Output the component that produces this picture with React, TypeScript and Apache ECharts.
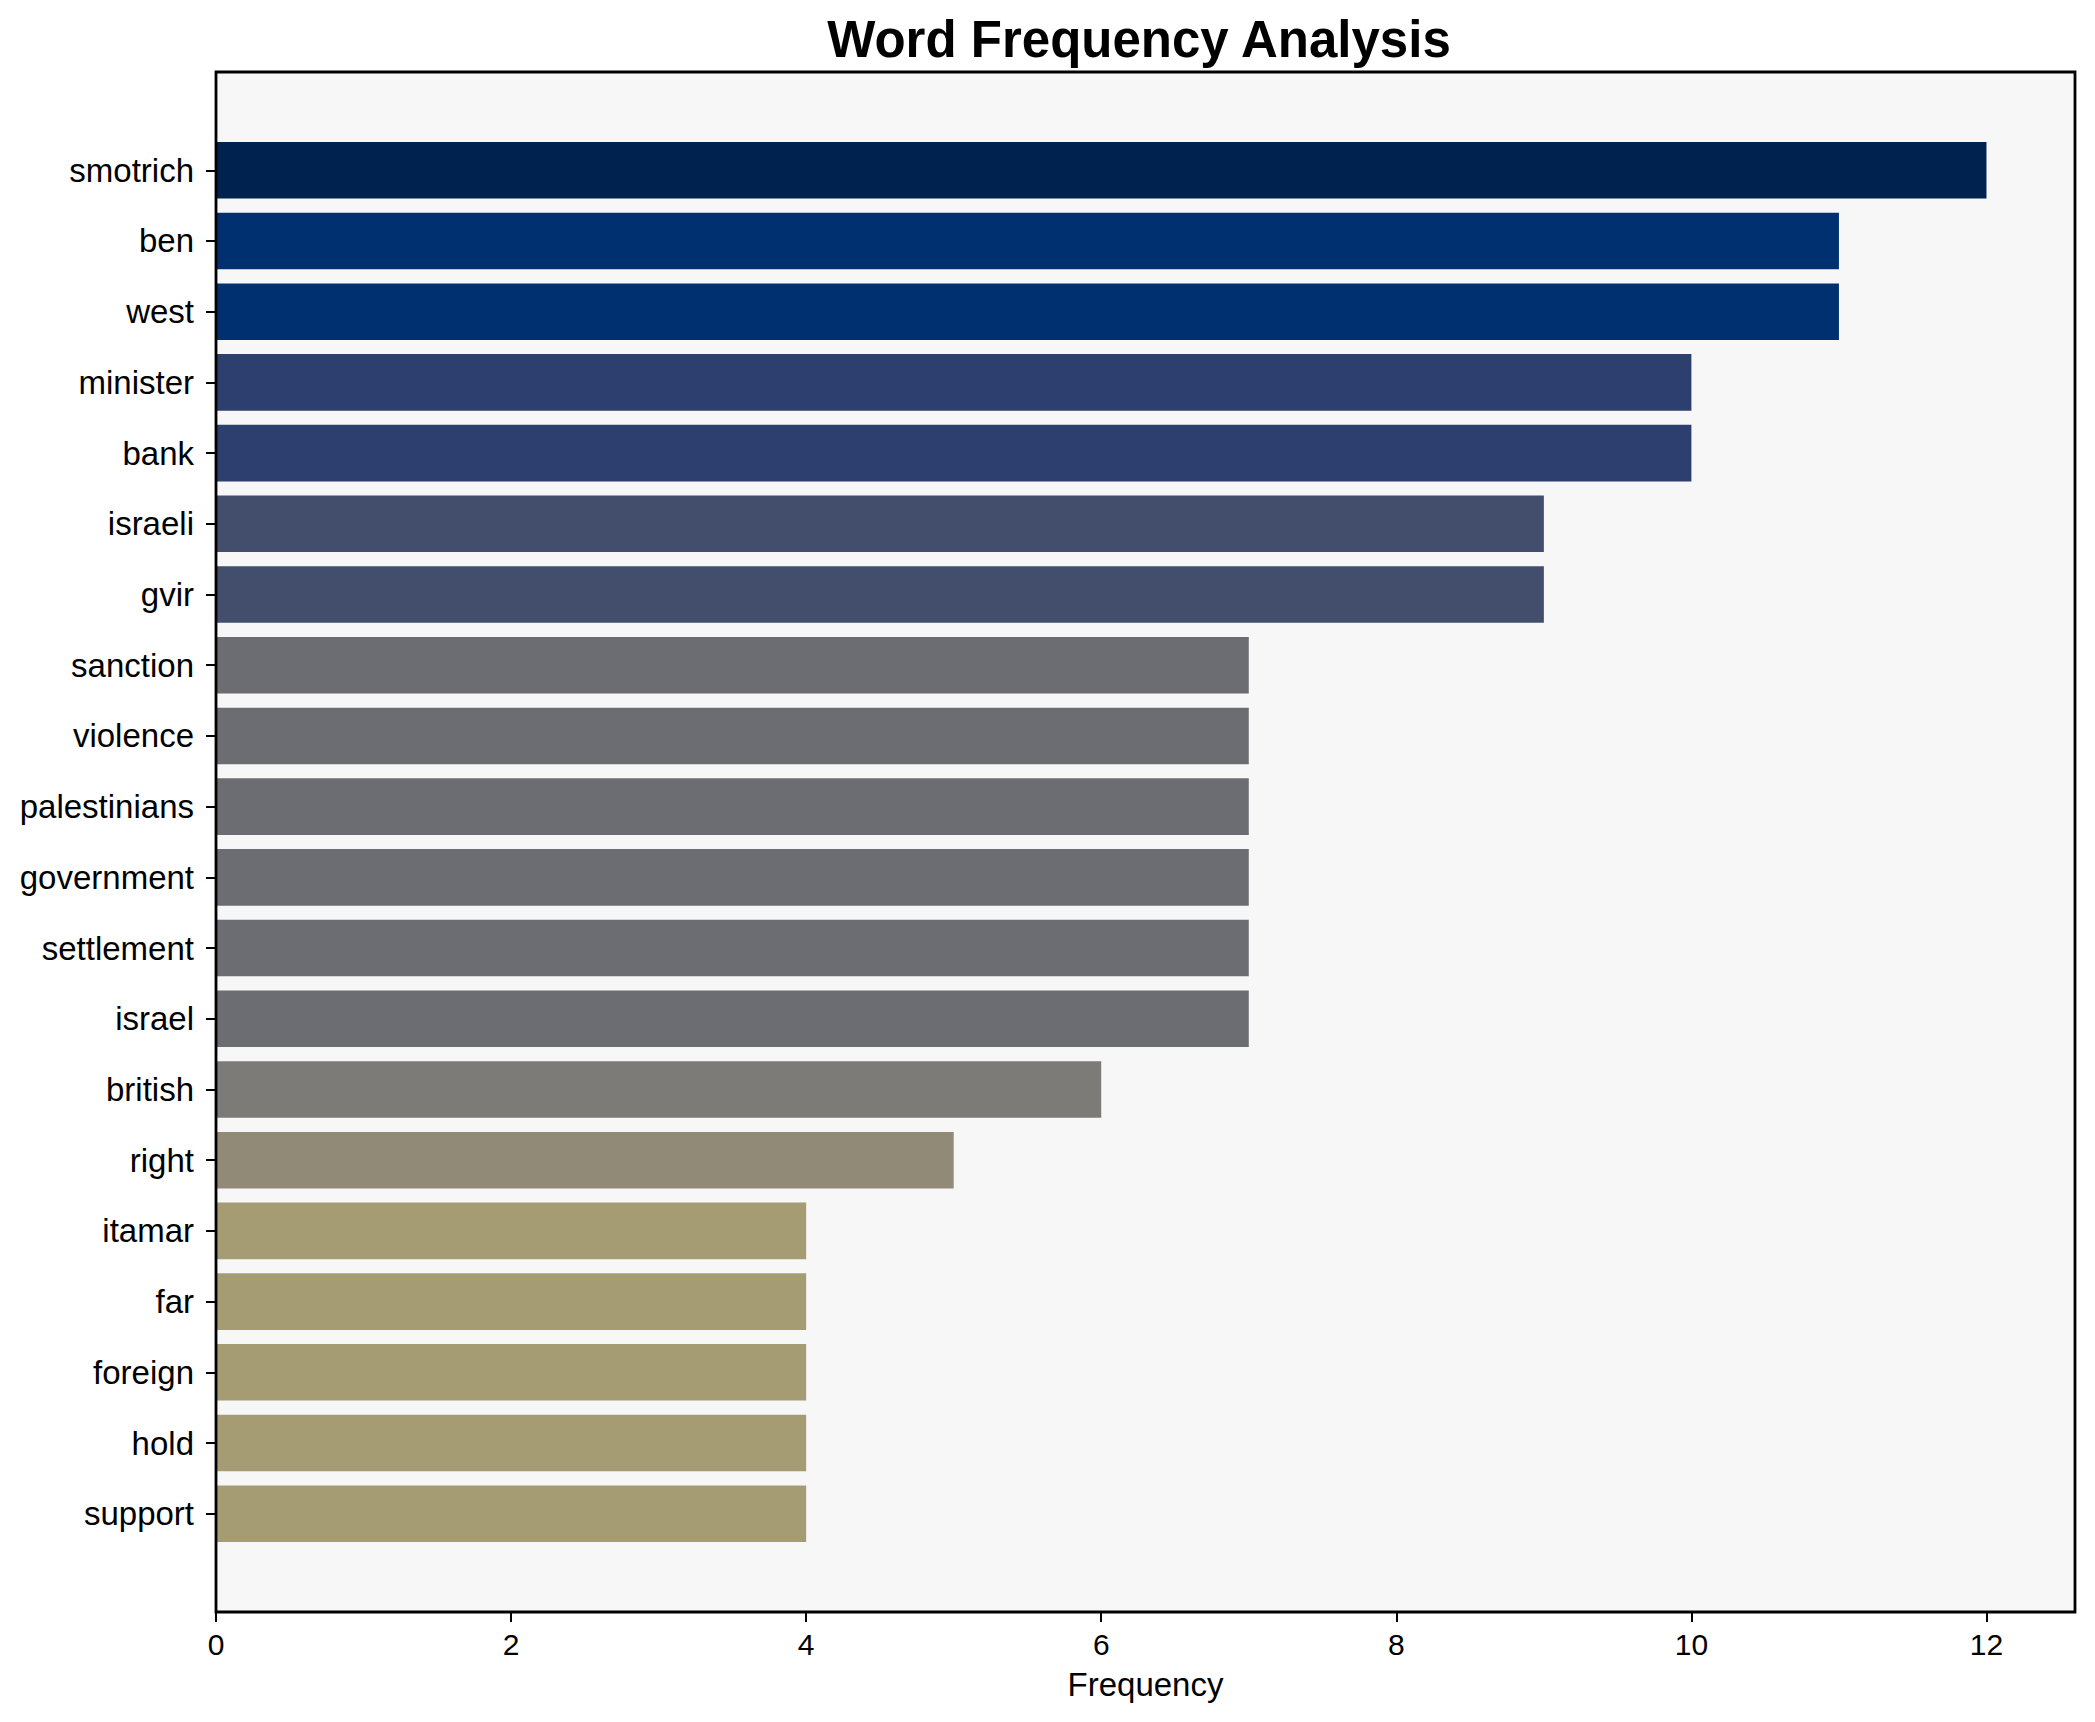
import React, { useEffect, useRef } from "react";
import * as echarts from "echarts";

const words = [
  "smotrich", "ben", "west", "minister", "bank", "israeli", "gvir", "sanction",
  "violence", "palestinians", "government", "settlement", "israel", "british",
  "right", "itamar", "far", "foreign", "hold", "support",
];
const frequencies = [12, 11, 11, 10, 10, 9, 9, 7, 7, 7, 7, 7, 7, 6, 5, 4, 4, 4, 4, 4];
const xTicks = [0, 2, 4, 6, 8, 10, 12];

const palette: Record<number, string> = {
  12: "#00224e",
  11: "#003070",
  10: "#2d3f6f",
  9: "#434e6c",
  7: "#6c6d72",
  6: "#7c7b78",
  5: "#918a76",
  4: "#a59c74",
};

const FONT = "'Liberation Sans', Arial, Helvetica, sans-serif";

export default function App() {
  const ref = useRef<HTMLDivElement>(null);
  useEffect(() => {
    document.body.style.margin = "0";
    const chart = echarts.init(ref.current!, null, { renderer: "svg" });
    const frameL = 216, frameT = 72, frameR = 2075, frameB = 1612;
    const band = (frameB - frameT) / 21.78;
    const gridTop = frameT + 0.89 * band;
    const gridBottom = frameB - 0.89 * band;
    chart.setOption({
      animation: false,
      backgroundColor: "#ffffff",
      title: {
        text: "Word Frequency Analysis",
        left: 1134,
        textAlign: "center",
        top: 9,
        textStyle: { fontFamily: FONT, fontSize: 51, fontWeight: "bold", color: "#000" },
      },
      grid: {
        left: frameL,
        right: 2095 - frameR,
        top: gridTop,
        bottom: 1722 - gridBottom,
        containLabel: false,
      },
      xAxis: {
        type: "value",
        min: 0,
        max: 12.6,
        interval: 2,
        offset: frameB - gridBottom,
        name: "Frequency",
        nameLocation: "middle",
        nameGap: 56,
        nameTextStyle: { fontFamily: FONT, fontSize: 33, color: "#000" },
        axisLine: { show: false },
        axisTick: {
          show: true,
          length: 10,
          customValues: xTicks,
          lineStyle: { color: "#000", width: 2 },
        },
        axisLabel: {
          fontFamily: FONT,
          fontSize: 30,
          color: "#000",
          margin: 17,
          customValues: xTicks,
          formatter: (v: number) => (xTicks.includes(v) ? String(v) : ""),
        },
        splitLine: { show: false },
      },
      yAxis: {
        type: "category",
        data: words,
        inverse: true,
        axisLine: { show: false },
        axisTick: { show: true, alignWithLabel: true, length: 10, lineStyle: { color: "#000", width: 2 } },
        axisLabel: { fontFamily: FONT, fontSize: 33, color: "#000", margin: 22 },
      },
      graphic: [
        {
          type: "rect",
          z: -10,
          silent: true,
          shape: { x: frameL, y: frameT, width: frameR - frameL, height: frameB - frameT },
          style: { fill: "#f7f7f7", stroke: "none" },
        },
        {
          type: "rect",
          z: 100,
          silent: true,
          shape: { x: frameL, y: frameT, width: frameR - frameL, height: frameB - frameT },
          style: { fill: "none", stroke: "#000", lineWidth: 2.8 },
        },
      ],
      series: [
        {
          type: "bar",
          barWidth: "80%",
          data: frequencies.map((v) => ({ value: v, itemStyle: { color: palette[v] } })),
        },
      ],
    });
    return () => chart.dispose();
  }, []);
  return <div ref={ref} style={{ width: 2095, height: 1722 }} />;
}
